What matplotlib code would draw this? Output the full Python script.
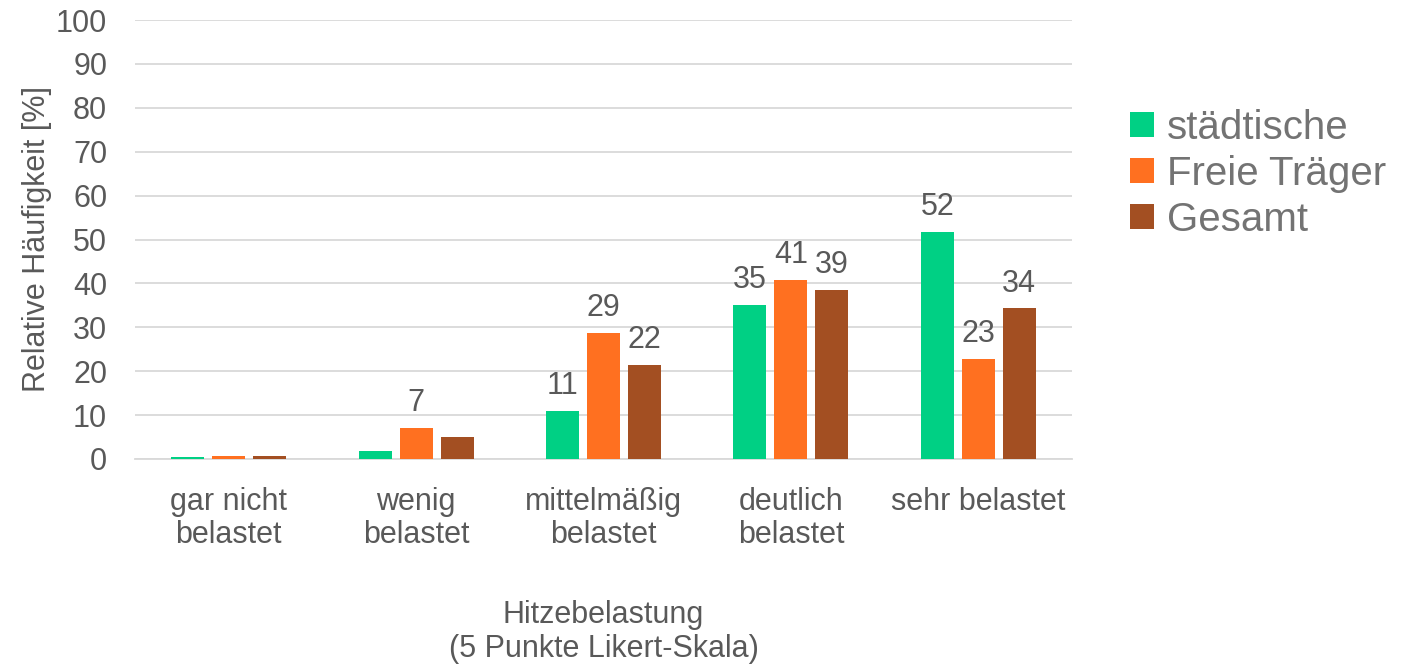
import numpy as np
import matplotlib.pyplot as plt

plt.rcParams['font.family'] = ['Liberation Sans', 'DejaVu Sans']

categories = ["gar nicht\nbelastet", "wenig\nbelastet", "mittelmäßig\nbelastet",
              "deutlich\nbelastet", "sehr belastet"]
staedtische = [0.5, 1.8, 10.9, 35.1, 51.7]
freie_traeger = [0.7, 7.1, 28.7, 40.8, 22.8]
gesamt = [0.7, 5.0, 21.5, 38.6, 34.3]
series_names = ["städtische", "Freie Träger", "Gesamt"]
colors = ["#00D084", "#FF7020", "#A34F22"]

text_color = "#595959"

fig = plt.figure(figsize=(14.01, 6.68), dpi=100)
ax = fig.add_axes([135 / 1401, 1 - 459 / 668, (1072 - 135) / 1401, (459 - 20) / 668])

x = np.arange(len(categories))
width = 0.176
step = 0.219
all_series = [staedtische, freie_traeger, gesamt]
for i, (vals, name, col) in enumerate(zip(all_series, series_names, colors)):
    pos = x + (i - 1) * step
    bars = ax.bar(pos, vals, width, color=col, label=name, zorder=3)
    for b, v in zip(bars, vals):
        if v >= 6:  # small bars have no label in the original
            ax.text(b.get_x() + b.get_width() / 2, v + 2.2, str(int(round(v))),
                    ha="center", va="bottom", fontsize=22, color=text_color)

ax.set_xlim(-0.5, 4.5)
ax.set_ylim(0, 100)
ax.set_yticks(range(0, 101, 10))
ax.yaxis.grid(True, color="#D9D9D9", linewidth=1.3, zorder=0)
ax.set_axisbelow(True)
for s in ["top", "right", "left"]:
    ax.spines[s].set_visible(False)
ax.spines["bottom"].set_color("#D9D9D9")
ax.spines["bottom"].set_linewidth(1.3)
ax.tick_params(axis="both", length=0, labelsize=22, colors=text_color)
ax.tick_params(axis="y", pad=20)
ax.tick_params(axis="x", pad=20)
ax.set_xticks(x)
ax.set_xticklabels(categories, linespacing=1.15)

ax.set_ylabel("Relative Häufigkeit [%]", fontsize=22, color=text_color, labelpad=3)
ax.set_xlabel("Hitzebelastung\n(5 Punkte Likert-Skala)", fontsize=22, color=text_color,
              labelpad=36, linespacing=1.15)

leg = ax.legend(loc="center left", bbox_to_anchor=(1.045, 0.65), frameon=False,
                fontsize=29, handlelength=0.6, handleheight=0.6, handletextpad=0.3,
                labelspacing=0.2, borderaxespad=0)
for t in leg.get_texts():
    t.set_color("#737373")

fig.savefig("out.png", dpi=100)
